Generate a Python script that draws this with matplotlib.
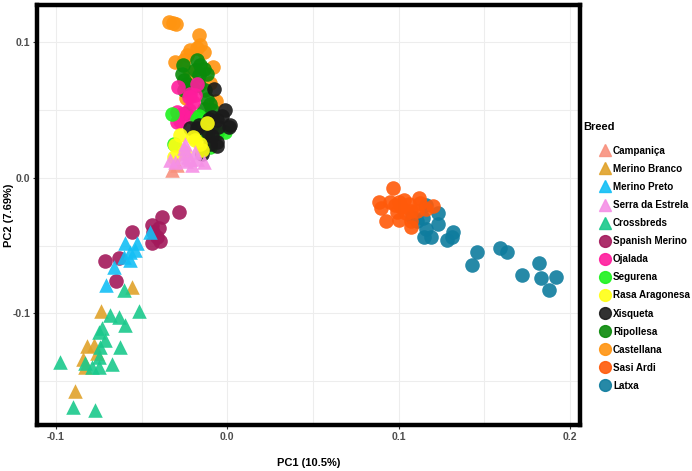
import matplotlib
matplotlib.use("Agg")
from matplotlib import pyplot as plt
from matplotlib.ticker import MultipleLocator
from matplotlib.lines import Line2D

plt.rcParams['font.family'] = ['Liberation Sans', 'DejaVu Sans']
plt.rcParams['axes.unicode_minus'] = False

# PCA scores, one pair of lists per breed
campanica_x = [-0.0323, -0.0293]
campanica_y = [0.0055, 0.0092]

merino_branco_x = [-0.0737, -0.0819, -0.0780, -0.0842, -0.0828, -0.0887, -0.0553, -0.0760]
merino_branco_y = [-0.0979, -0.1239, -0.1232, -0.1337, -0.1391, -0.1568, -0.0807, -0.1290]

merino_preto_x = [-0.0453, -0.0595, -0.0527, -0.0566, -0.0540, -0.0605, -0.0570, -0.0663, -0.0706]
merino_preto_y = [-0.0399, -0.0484, -0.0484, -0.0546, -0.0530, -0.0582, -0.0607, -0.0656, -0.0790]

serra_x = [-0.0255, -0.0236, -0.0264, -0.0216, -0.0333, -0.0303, -0.0177, -0.0138, -0.0206, -0.0240, -0.0248, -0.0190]
serra_y = [0.0215, 0.0178, 0.0153, 0.0141, 0.0129, 0.0116, 0.0141, 0.0116, 0.0092, 0.0120, 0.0250, 0.0190]

crossbreds_x = [-0.0683, -0.0634, -0.0595, -0.0517, -0.0731, -0.0751, -0.0712, -0.0741, -0.0628,
                -0.0751, -0.0828, -0.0790, -0.0751, -0.0673, -0.0978, -0.0900, -0.0770, -0.0605]
crossbreds_y = [-0.1011, -0.1024, -0.1085, -0.0979, -0.1109, -0.1134, -0.1195, -0.1244, -0.1244,
                -0.1318, -0.1366, -0.1391, -0.1391, -0.1371, -0.1354, -0.1685, -0.1710, -0.0827]

spanish_merino_x = [-0.0284, -0.0381, -0.0439, -0.0400, -0.0433, -0.0391, -0.0439, -0.0410,
                    -0.0553, -0.0712, -0.0634, -0.0648]
spanish_merino_y = [-0.0251, -0.0293, -0.0349, -0.0374, -0.0399, -0.0467, -0.0480, -0.0435,
                    -0.0403, -0.0612, -0.0594, -0.0759]

ojalada_x = [-0.0288, -0.0216, -0.0187, -0.0197, -0.0226, -0.0206, -0.0274, -0.0264, -0.0177,
             -0.0293, -0.0226, -0.0293]
ojalada_y = [0.0668, 0.0619, 0.0607, 0.0557, 0.0496, 0.0447, 0.0415, 0.0472, 0.0693,
             0.0484, 0.0595, 0.0410]

segurena_x = [-0.0323, -0.0177, -0.0167, -0.0012, -0.0099, -0.0313, -0.0150]
segurena_y = [0.0467, 0.0435, 0.0455, 0.0337, 0.0226, 0.0251, 0.0420]

rasa_x = [-0.0274, -0.0303, -0.0118, -0.0187, -0.0158, -0.0148, -0.0313, -0.0255, -0.0197]
rasa_y = [0.0312, 0.0239, 0.0403, 0.0276, 0.0251, 0.0202, 0.0153, 0.0190, 0.0300]

xisqueta_x = [-0.0080, -0.0012, -0.0031, 0.0013, -0.0060, -0.0051, -0.0089, -0.0220, -0.0177,
              -0.0089, -0.0060, -0.0060, -0.0099, -0.0148, -0.0115, 0.0018, -0.0109, -0.0167]
xisqueta_y = [0.0650, 0.0496, 0.0452, 0.0374, 0.0423, 0.0374, 0.0447, 0.0362, 0.0362,
              0.0305, 0.0263, 0.0232, 0.0251, 0.0173, 0.0337, 0.0391, 0.0435, 0.0386]

ripollesa_x = [-0.0261, -0.0177, -0.0158, -0.0134, -0.0187, -0.0264, -0.0118, -0.0167, -0.0255,
               -0.0235, -0.0206, -0.0255, -0.0167, -0.0128, -0.0118, -0.0103, -0.0138, -0.0089,
               -0.0239, -0.0162, -0.0128, -0.0060, -0.0177]
ripollesa_y = [0.0832, 0.0864, 0.0827, 0.0803, 0.0790, 0.0766, 0.0766, 0.0754, 0.0717,
               0.0693, 0.0668, 0.0643, 0.0680, 0.0643, 0.0582, 0.0546, 0.0509, 0.0496,
               0.0476, 0.0452, 0.0325, 0.0330, 0.0399]

castellana_x = [-0.0342, -0.0317, -0.0298, -0.0167, -0.0160, -0.0177, -0.0216, -0.0232, -0.0138,
                -0.0303, -0.0255, -0.0083, -0.0216, -0.0103, -0.0064, -0.0240]
castellana_y = [0.1146, 0.1138, 0.1134, 0.1053, 0.0974, 0.0957, 0.0938, 0.0906, 0.0925,
                0.0851, 0.0864, 0.0815, 0.0778, 0.0697, 0.0565, 0.0590]

sasi_ardi_x = [0.0965, 0.0885, 0.0900, 0.0947, 0.0924, 0.1003, 0.1029, 0.1015, 0.0990, 0.1002,
               0.1062, 0.1070, 0.1074, 0.1074, 0.1118, 0.1107, 0.1159, 0.1200, 0.1044, 0.0980, 0.1126]
sasi_ardi_y = [-0.0075, -0.0178, -0.0220, -0.0182, -0.0318, -0.0178, -0.0165, -0.0215, -0.0251, -0.0313,
               -0.0195, -0.0244, -0.0320, -0.0362, -0.0153, -0.0244, -0.0229, -0.0210, -0.0259, -0.0202, -0.0190]

latxa_x = [0.108, 0.111, 0.114, 0.116, 0.123, 0.123, 0.116, 0.115, 0.119, 0.128, 0.132,
           0.131, 0.146, 0.143, 0.159, 0.163, 0.182, 0.172, 0.183, 0.192, 0.188]
latxa_y = [-0.029, -0.032, -0.030, -0.020, -0.026, -0.034, -0.038, -0.044, -0.044, -0.046, -0.040,
           -0.044, -0.055, -0.064, -0.052, -0.055, -0.063, -0.072, -0.074, -0.073, -0.083]

breeds = ["Campaniça", "Merino Branco", "Merino Preto", "Serra da Estrela", "Crossbreds",
          "Spanish Merino", "Ojalada", "Segurena", "Rasa Aragonesa", "Xisqueta",
          "Ripollesa", "Castellana", "Sasi Ardi", "Latxa"]
xs = [campanica_x, merino_branco_x, merino_preto_x, serra_x, crossbreds_x,
      spanish_merino_x, ojalada_x, segurena_x, rasa_x, xisqueta_x,
      ripollesa_x, castellana_x, sasi_ardi_x, latxa_x]
ys = [campanica_y, merino_branco_y, merino_preto_y, serra_y, crossbreds_y,
      spanish_merino_y, ojalada_y, segurena_y, rasa_y, xisqueta_y,
      ripollesa_y, castellana_y, sasi_ardi_y, latxa_y]
colors = ["#F8917E", "#E0A22A", "#14BFF5", "#F590E6", "#1AC98C",
          "#A3195B", "#FF1C9C", "#1EF21E", "#FFFF14", "#1A1A1A",
          "#0A8A0A", "#FF9410", "#FF5A0A", "#0E7C9E"]
markers = ["^"] * 5 + ["o"] * 9
# stacking order as it looks in the original (higher = on top)
layer = [12, 9, 10, 13, 11, 8, 5, 6, 7, 6.5, 4, 3, 3.5, 2]

fig = plt.figure(figsize=(6.92, 4.71), dpi=100)
ax = fig.add_axes([0.0535, 0.098, 0.785, 0.891])

for x, y, c, m, z in zip(xs, ys, colors, markers, layer):
    ax.scatter(x, y, s=110, c=c, marker=m, alpha=0.9, linewidths=0, zorder=z)

ax.set_xlim(-0.111, 0.206)
ax.set_ylim(-0.182, 0.127)
ax.xaxis.set_major_locator(MultipleLocator(0.1))
ax.yaxis.set_major_locator(MultipleLocator(0.1))
ax.xaxis.set_minor_locator(MultipleLocator(0.05))
ax.yaxis.set_minor_locator(MultipleLocator(0.05))
ax.set_axisbelow(True)
ax.grid(True, which='both', color='#EDEDED', linewidth=0.8)
ax.tick_params(which='minor', length=0)
ax.tick_params(which='major', length=3, width=0.8, color='#333333', pad=2,
               labelsize=7.5, labelcolor='#4D4D4D')
for lab in ax.get_xticklabels() + ax.get_yticklabels():
    lab.set_fontweight('bold')
for sp in ax.spines.values():
    sp.set_linewidth(3.2)
    sp.set_color('black')
    sp.set_zorder(20)

ax.set_xlabel("PC1 (10.5%)", fontsize=8, fontweight='bold')
ax.set_ylabel("PC2 (7.69%)", fontsize=8, fontweight='bold')
ax.xaxis.set_label_coords(0.5, -0.079)
ax.yaxis.set_label_coords(-0.043, 0.5)

handles = [Line2D([], [], ls='', marker=m, color=c, markersize=8.5, alpha=0.9)
           for c, m in zip(colors, markers)]
leg = fig.legend(handles, breeds, loc='upper left',
                 bbox_to_anchor=(0.858, 0.701), frameon=False,
                 prop={'size': 7.1, 'weight': 'bold'}, handletextpad=0.25,
                 labelspacing=0.82, handlelength=1.2, borderpad=0)
fig.text(0.843, 0.730, "Breed", fontsize=8, fontweight='bold', va='center', ha='left')

fig.savefig("out.png", dpi=100)
